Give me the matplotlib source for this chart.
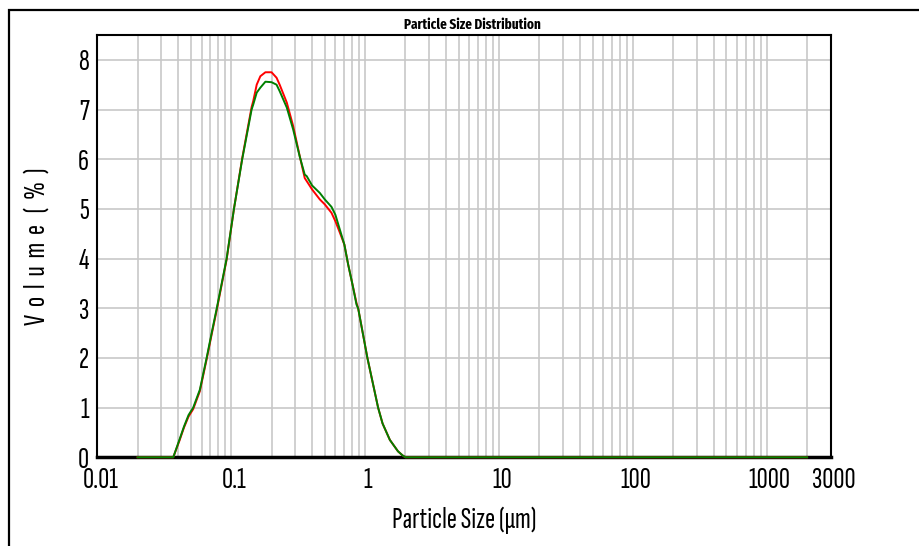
import matplotlib
matplotlib.use("Agg")
import matplotlib.pyplot as plt
from matplotlib.patches import Rectangle
from matplotlib.transforms import ScaledTranslation
from matplotlib.ticker import FixedLocator, NullFormatter, LogLocator

# Particle size (µm) and volume (%) for the two measurements
size_um = [0.02, 0.0369, 0.041, 0.0444, 0.048, 0.052, 0.0583, 0.0655, 0.0714,
           0.078, 0.0924, 0.1048, 0.1208, 0.142, 0.146, 0.155, 0.165, 0.18,
           0.2, 0.218, 0.23, 0.26, 0.29, 0.325, 0.354, 0.366, 0.402, 0.459,
           0.5, 0.561, 0.6, 0.648, 0.7, 0.747, 0.8, 0.863, 0.887, 1.04, 1.25,
           1.35, 1.53, 1.76, 1.9, 2.0, 2000.0]
volume_red = [0, 0, 0.33, 0.60, 0.82, 0.97, 1.33, 1.97, 2.47,
              2.97, 3.98, 5.00, 6.02, 7.05, 7.17, 7.50, 7.67, 7.75,
              7.75, 7.64, 7.50, 7.14, 6.67, 6.06, 5.62, 5.56, 5.39, 5.19,
              5.09, 4.92, 4.75, 4.52, 4.28, 3.88, 3.51, 3.10, 3.00, 2.00, 1.00,
              0.68, 0.35, 0.12, 0.04, 0, 0]
volume_green = [0, 0, 0.35, 0.62, 0.85, 1.00, 1.36, 2.00, 2.50,
                3.00, 4.00, 5.00, 6.00, 7.00, 7.10, 7.34, 7.44, 7.56,
                7.55, 7.50, 7.37, 7.04, 6.60, 6.05, 5.69, 5.66, 5.47, 5.32,
                5.19, 5.04, 4.88, 4.58, 4.28, 3.88, 3.51, 3.07, 3.00, 2.00, 1.00,
                0.68, 0.35, 0.12, 0.04, 0, 0]

x_ticks = [0.01, 0.1, 1, 10, 100, 1000, 3000]
x_tick_labels = ["0.01", "0.1", "1", "10", "100", "1000", "3000"]
y_ticks = [0, 1, 2, 3, 4, 5, 6, 7, 8]

narrow = ["Sofia Sans Extra Condensed", "Archivo Narrow", "DejaVu Sans"]
narrow_bold = ["Fira Sans Extra Condensed", "Archivo Narrow", "DejaVu Sans"]

fig = plt.figure(figsize=(9.2, 5.46), dpi=100)
ax = fig.add_axes([0.1058, 0.1625, 0.7971, 0.7734])

ax.set_xscale("log")
ax.set_xlim(0.01, 3000)
ax.set_ylim(0, 8.5)

ax.xaxis.set_major_locator(FixedLocator(x_ticks))
ax.set_xticklabels(x_tick_labels, family=narrow, fontsize=22)
ax.xaxis.set_minor_locator(LogLocator(base=10, subs=range(2, 10), numticks=20))
ax.xaxis.set_minor_formatter(NullFormatter())
ax.set_yticks(y_ticks)
ax.set_yticklabels([str(v) for v in y_ticks], family=narrow, fontsize=22)
ax.tick_params(which="both", length=0)
ax.tick_params(axis="x", pad=7)
ax.tick_params(axis="y", pad=6)

# nudge the x tick labels slightly to the right of their grid lines
shift = ScaledTranslation(3 / 100, 0, fig.dpi_scale_trans)
for lab in ax.get_xticklabels():
    lab.set_transform(lab.get_transform() + shift)

grid_kw = dict(color="#c8c8c8", linewidth=1.2)
ax.grid(True, which="major", axis="both", **grid_kw)
ax.grid(True, which="minor", axis="x", **grid_kw)
ax.set_axisbelow(True)

for side in ("left", "top", "right"):
    ax.spines[side].set_linewidth(1.5)
ax.spines["bottom"].set_linewidth(2.5)

ax.plot(size_um, volume_red, color="#ff0000", lw=1.4, clip_on=False, zorder=5)
ax.plot(size_um, volume_green, color="#008000", lw=1.4, clip_on=False, zorder=6)

ax.set_title("Particle Size Distribution", family=narrow_bold, fontsize=10.3,
             fontweight="bold", pad=4, x=0.512)
ax.set_xlabel("Particle Size (µm)", family=narrow, fontsize=22, labelpad=9)
ax.set_ylabel("V  o  l  u  m  e   (  %  )", family=narrow, fontsize=22,
              labelpad=20)

# Outer frame of the report panel
fig.patches.append(Rectangle((8.5 / 920, -0.1), 1.2, 1.1 - 10 / 546,
                             transform=fig.transFigure, fill=False,
                             edgecolor="black", linewidth=1.6))

fig.savefig("out.png", dpi=100)
